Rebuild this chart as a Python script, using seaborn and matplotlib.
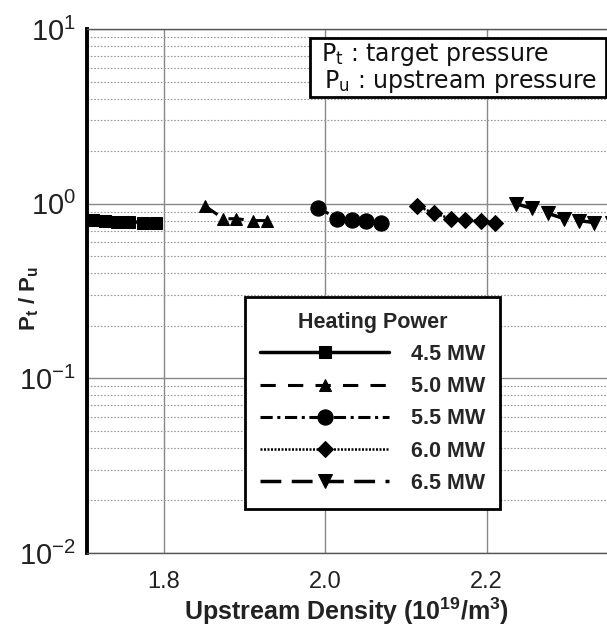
import numpy as np
import pandas as pd
import matplotlib
matplotlib.use("Agg")
import matplotlib.pyplot as plt
import matplotlib.ticker as mticker
from matplotlib.patches import Rectangle
import seaborn as sns

# ---- data ----
powers = ["4.5 MW", "5.0 MW", "5.5 MW", "6.0 MW", "6.5 MW"]
x_45 = [1.712, 1.727, 1.742, 1.757, 1.774, 1.791]
y_45 = [0.81, 0.80, 0.79, 0.79, 0.78, 0.77]
x_50 = [1.851, 1.874, 1.890, 1.910, 1.928]
y_50 = [0.97, 0.82, 0.82, 0.80, 0.80]
x_55 = [1.991, 2.015, 2.033, 2.051, 2.069]
y_55 = [0.95, 0.82, 0.81, 0.80, 0.78]
x_60 = [2.114, 2.135, 2.156, 2.173, 2.193, 2.210]
y_60 = [0.97, 0.88, 0.82, 0.81, 0.80, 0.78]
x_65 = [2.236, 2.256, 2.276, 2.296, 2.314, 2.333, 2.355]
y_65 = [1.00, 0.94, 0.88, 0.82, 0.80, 0.78, 0.77]

x_ticks = [1.8, 2.0, 2.2]
x_ticklabels = ["1.8", "2.0", "2.2"]

series_x = [x_45, x_50, x_55, x_60, x_65]
series_y = [y_45, y_50, y_55, y_60, y_65]

markers = ["s", "^", "o", "D", "v"]
msizes = [8, 9, 11, 8, 10]
lstyles = ["-", (0, (5, 4)), (0, (4, 1.5, 1, 1.5)), (0, (0.8, 0.6)), (0, (6, 3))]
lwidths = [2.5, 2.2, 2.2, 1.8, 2.5]

sns.set_theme(style="white")
plt.rcParams["font.family"] = ["Liberation Sans", "DejaVu Sans"]
plt.rcParams["mathtext.fontset"] = "custom"
plt.rcParams["mathtext.rm"] = "Liberation Sans"
plt.rcParams["mathtext.it"] = "Liberation Sans:italic"
plt.rcParams["mathtext.bf"] = "Liberation Sans:bold"

fig = plt.figure(figsize=(6.07, 6.33), dpi=100)
ax = fig.add_axes([87 / 607, 1 - 553 / 633, 1 - 87 / 607, (553 - 29) / 633])

for i, p in enumerate(powers):
    df = pd.DataFrame({"x": series_x[i], "y": series_y[i]})
    sns.lineplot(data=df, x="x", y="y", ax=ax, color="black",
                 marker=markers[i], markersize=msizes[i], markeredgecolor="black",
                 linestyle=lstyles[i], linewidth=lwidths[i], label=p)

ax.set_yscale("log")
ax.set_ylim(1e-2, 1e1)
ax.set_xlim(1.705, 2.349)
ax.set_xticks(x_ticks)
ax.set_xticklabels(x_ticklabels)

ax.yaxis.set_major_locator(mticker.LogLocator(base=10, numticks=10))
ax.yaxis.set_minor_locator(mticker.LogLocator(base=10, subs=np.arange(2, 10), numticks=20))
ax.yaxis.set_minor_formatter(mticker.NullFormatter())

ax.grid(True, which="major", axis="both", color="#888888", linewidth=1.0, linestyle="-")
ax.grid(True, which="minor", axis="y", color="#999999", linewidth=0.8, linestyle=(0, (1.5, 1.5)))

ax.tick_params(axis="y", which="major", direction="in", length=14, width=2.2,
               color="black", labelsize=21, pad=8)
ax.tick_params(axis="y", which="minor", direction="in", length=8, width=1.2, color="black")
ax.tick_params(axis="x", which="both", length=0, labelsize=17, pad=13, colors="#222222")
ax.tick_params(axis="y", labelcolor="#222222")

ax.spines["left"].set_color("black")
ax.spines["left"].set_linewidth(2.8)
for s in ["bottom", "top"]:
    ax.spines[s].set_color("#555555")
    ax.spines[s].set_linewidth(1.0)
ax.spines["right"].set_visible(False)

ax.set_xlabel(r"Upstream Density (10$^{\mathbf{19}}$/m$^{\mathbf{3}}$)",
              fontsize=18, fontweight="bold", labelpad=2, color="#222222")
ax.set_ylabel(r"$\mathbf{P_t\ /\ P_u}$", fontsize=16, color="#222222")
ax.yaxis.set_label_coords(-0.088, 0.485)

leg = ax.legend(loc="upper left", bbox_to_anchor=(0.304, 0.489), borderaxespad=0,
                title="Heating Power", frameon=True, fancybox=False,
                prop={"weight": "bold", "size": 15.5},
                title_fontproperties={"weight": "bold", "size": 15.5},
                handlelength=6.0, handletextpad=1.0, numpoints=1,
                labelspacing=0.52, borderpad=0.7)
leg.get_frame().set_edgecolor("black")
leg.get_frame().set_linewidth(2.0)
leg.get_frame().set_facecolor("white")
leg.get_frame().set_alpha(1.0)

# annotation box
rect = Rectangle((0.429, 0.870), 0.569, 0.113, transform=ax.transAxes,
                 facecolor="white", edgecolor="black", linewidth=2.0, zorder=5)
ax.add_patch(rect)
ax.text(0.450, 0.952, r"P$_\mathregular{t}$ : target pressure", transform=ax.transAxes,
        fontsize=17, va="center", ha="left", zorder=6, color="#111111",
        family="DejaVu Sans")
ax.text(0.456, 0.900, r"P$_\mathregular{u}$ : upstream pressure", transform=ax.transAxes,
        fontsize=17, va="center", ha="left", zorder=6, color="#111111",
        family="DejaVu Sans")

fig.savefig("out.png", dpi=100)
